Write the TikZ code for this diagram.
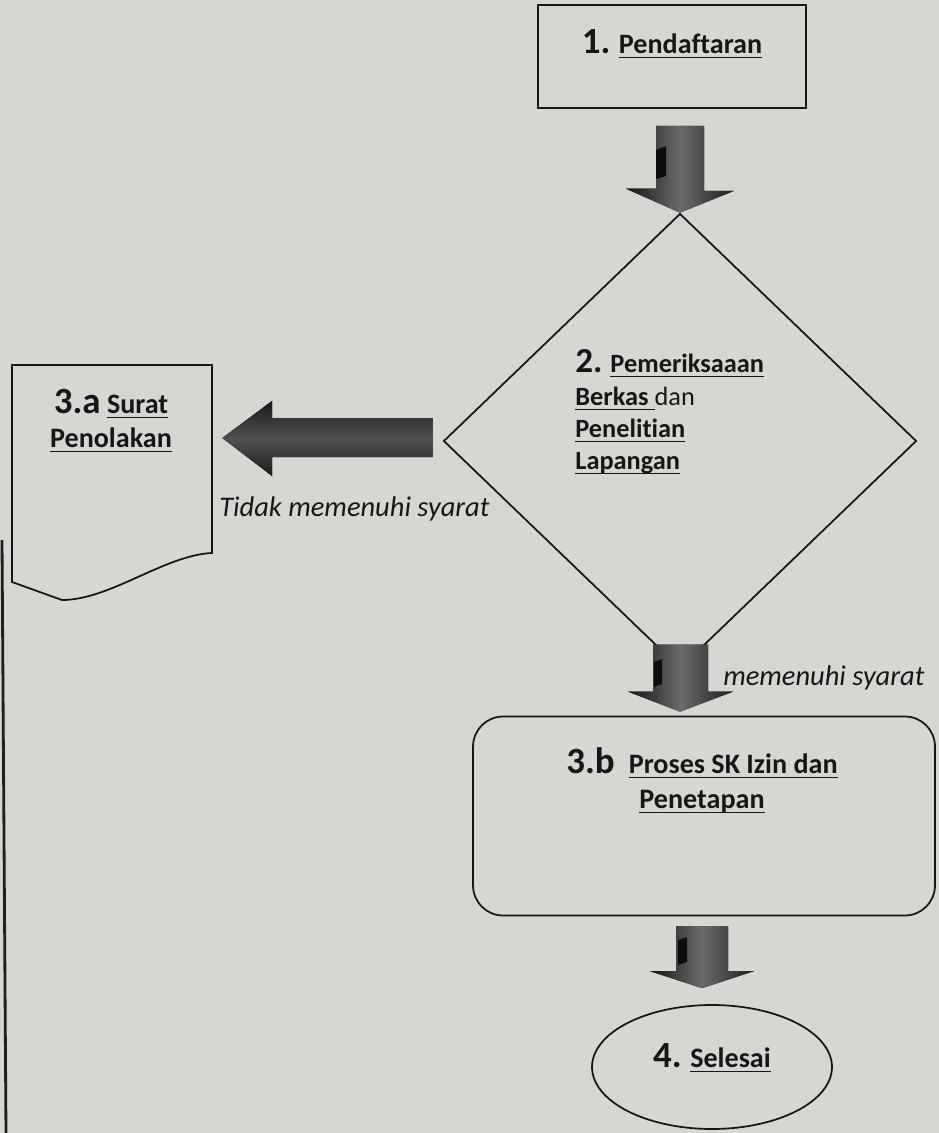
\documentclass[tikz,border=0pt]{standalone}
\usepackage{fontspec}
\setmainfont{Carlito}[Ligatures={TeX,NoCommon}]
\usetikzlibrary{shapes.geometric,calc}
\definecolor{paper}{RGB}{214,214,211}
\definecolor{ink}{RGB}{22,22,22}
\newsavebox\ulbox
\newcommand\myul[1]{\sbox\ulbox{#1}\rlap{\rule[-3pt]{\wd\ulbox}{1pt}}\usebox\ulbox}
\newcommand\numf[1]{{\fontsize{21}{24}\selectfont #1}}
\newcommand\numd[1]{{\fontsize{20}{24}\selectfont #1}}
\begin{document}
\begin{tikzpicture}[x=0.02cm,y=-0.02cm,
  lbl/.style={font=\bfseries\fontsize{16}{19}\selectfont, text=ink, inner sep=0},
  lbd/.style={font=\bfseries\fontsize{15}{18}\selectfont, text=ink, inner sep=0},
  lab/.style={font=\itshape\fontsize{16.2}{19}\selectfont, text=ink, inner sep=0},
  outline/.style={draw=ink, line width=1pt, inner sep=0},
  downarr/.style={left color=black!92, right color=black!88, middle color=black!58},
  leftarr/.style={top color=black!90, bottom color=black!90, middle color=black!68},
  notch/.style={fill=black!95},
]
\fill[paper] (0,0) rectangle (939,1133);
\useasboundingbox (0,0) rectangle (939,1133);

% page edge line
\draw[black!88, line width=1.6pt] (2,540) -- (6,1133);

% 1. Pendaftaran
\node[outline, rectangle, minimum width=5.36cm, minimum height=2.06cm] (box1) at (672,56.5) {};
\node[lbl, anchor=base] (t1) at (672,53) {\numf{1.} \myul{Pendaftaran}};

% 2. diamond
\node[outline, diamond, minimum width=9.46cm, minimum height=9.1cm] (dia) at (680,441) {};
\node[lbd, anchor=base west] (t2a) at (575,372) {\numd{2.} \myul{Pemeriksaaan}};
\node[lbd, anchor=base west] (t2b) at (575,405) {\myul{Berkas\ }\mdseries dan};
\node[lbd, anchor=base west] (t2c) at (575,437) {\myul{Penelitian}};
\node[lbd, anchor=base west] (t2d) at (575,469) {\myul{Lapangan}};

% arrow 1 -> 2
\coordinate (a1top) at ($(box1.south)+(8,17)$);
\fill[downarr] (a1top) ++(-24,0) -- ++(48,0) -- ++(0,65) -- ++(30,0) -- (dia.north)
  -- ++(-54,-24) -- ++(30,0) -- cycle;
\fill[notch] (656,150) -- (666,146) -- (666,176) -- (656,179) -- cycle;

% 3.a document
\node[inner sep=0, minimum width=4cm, minimum height=4.7cm] (doc) at (112,482.5) {};
\draw[draw=ink, line width=1pt] (12,582) -- (12,365) -- (212,365) -- (212,553)
  .. controls (165,555) and (110,600) .. (62,600) -- cycle;
\node[lbl, anchor=base] (t3a1) at (111,413) {\numf{3.a} \myul{Surat}};
\node[lbl, anchor=base] (t3a2) at (111,447) {\myul{Penolakan}};

% arrow 2 -> 3.a
\coordinate (a2tail) at ($(dia.west)+(-10,-3)$);
\coordinate (a2tip) at ($(doc.east)+(10,-44.5)$);
\fill[leftarr] (a2tail) ++(0,-20) -- (272,418) -- (272,401) -- (a2tip) -- (272,476)
  -- (272,457) -- ($(a2tail)+(0,19)$) -- cycle;
\node[lab, anchor=base west] (no) at (219,516) {Tidak memenuhi syarat};

% 3.b process
\node[outline, rectangle, rounded corners=0.6cm, minimum width=9.24cm, minimum height=3.98cm] (proc) at (704,816) {};
\node[lbl, anchor=base] (t3b1) at (702,773) {\numf{3.b}\hspace{0.5em}\myul{Proses SK Izin dan}};
\node[lbl, anchor=base] (t3b2) at (702,808) {\myul{Penetapan}};

% arrow 2 -> 3.b
\coordinate (a3tip) at ($(proc.north)+(-24,-4)$);
\fill[downarr] (a3tip) -- ++(53,-20) -- ++(-25,0) -- ++(0,-47) -- ++(-55,0) -- ++(0,47)
  -- ++(-25,0) -- cycle;
\fill[notch] (654,662) -- (662,659) -- (662,684) -- (654,687) -- cycle;
\node[lab, anchor=base west] (yes) at (723,685) {memenuhi syarat};

% 4. Selesai
\node[outline, ellipse, minimum width=4.8cm, minimum height=2.48cm] (end) at (712,1067) {};
\node[lbl, anchor=base] (t4) at (712,1067) {\numf{4.} \myul{Selesai}};

% arrow 3.b -> 4
\coordinate (a4tip) at ($(end.north)+(-10,-16)$);
\fill[downarr] (a4tip) -- ++(52,-17) -- ++(-26,0) -- ++(0,-45) -- ++(-52,0) -- ++(0,45)
  -- ++(-26,0) -- cycle;
\fill[notch] (678,940) -- (687,937) -- (687,962) -- (678,965) -- cycle;
\end{tikzpicture}
\end{document}
